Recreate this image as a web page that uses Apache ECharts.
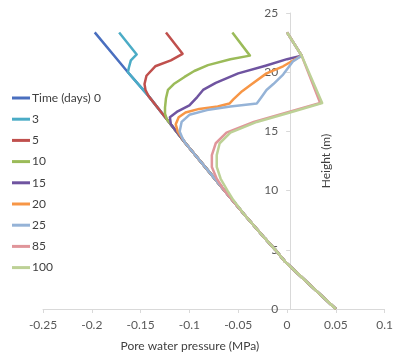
<!DOCTYPE html>
<html>
<head>
<meta charset="utf-8">
<script src="https://cdn.jsdelivr.net/npm/echarts@6/dist/echarts.min.js"></script>
<style>html,body{margin:0;padding:0;background:#fff}#c{width:396px;height:357px}</style>
</head>
<body>
<div id="c"></div>
<script>
// Series names (time in days)
const seriesNames = ['Time (days) 0', '3', '5', '10', '15', '20', '25', '85', '100'];
const seriesColors = ['#4A6FBF', '#4BACC6', '#C0504D', '#9BBB59', '#6F54A0', '#F79646', '#95B3D7', '#E0959A', '#BDD196'];

// Pore water pressure (MPa) and height (m) for each time
const p0   = [-0.197, -0.163, -0.142, -0.123, -0.104, -0.084, -0.064, -0.044, -0.023, -0.012, -0.002, 0.011, 0.024, 0.037, 0.05];
const h0   = [23.36, 20, 18, 16, 14, 12, 10, 8, 6, 5, 4, 3, 2, 1, 0];

const p3   = [-0.172, -0.154, -0.160, -0.162, -0.163, -0.142, -0.123, -0.104, -0.084, -0.064, -0.044, -0.023, -0.012, -0.002, 0.011, 0.024, 0.037, 0.05];
const h3   = [23.36, 21.5, 21.0, 20.4, 20, 18, 16, 14, 12, 10, 8, 6, 5, 4, 3, 2, 1, 0];

const p5   = [-0.124, -0.107, -0.119, -0.135, -0.144, -0.146, -0.145, -0.142, -0.123, -0.104, -0.084, -0.064, -0.044, -0.023, -0.012, -0.002, 0.011, 0.024, 0.037, 0.05];
const h5   = [23.36, 21.55, 21.0, 20.5, 19.7, 19.0, 18.5, 18.0, 16, 14, 12, 10, 8, 6, 5, 4, 3, 2, 1, 0];

const p10  = [-0.056, -0.038, -0.058, -0.081, -0.095, -0.105, -0.116, -0.122, -0.124, -0.125, -0.125, -0.123, -0.104, -0.084, -0.064, -0.044, -0.023, -0.012, -0.002, 0.011, 0.024, 0.037, 0.05];
const h10  = [23.36, 21.4, 21.1, 20.6, 20.1, 19.6, 19.0, 18.5, 17.8, 17.0, 16.5, 16, 14, 12, 10, 8, 6, 5, 4, 3, 2, 1, 0];

const p15  = [0, 0.015, 0, -0.022, -0.050, -0.073, -0.086, -0.092, -0.100, -0.112, -0.120, -0.119, -0.104, -0.084, -0.064, -0.044, -0.023, -0.012, -0.002, 0.011, 0.024, 0.037, 0.05];
const h15  = [23.36, 21.4, 21.1, 20.55, 19.9, 19.1, 18.5, 17.9, 17.2, 16.7, 16.2, 15.6, 14, 12, 10, 8, 6, 5, 4, 3, 2, 1, 0];

const p20  = [0, 0.015, -0.004, -0.021, -0.036, -0.046, -0.055, -0.059, -0.071, -0.090, -0.104, -0.111, -0.114, -0.112, -0.104, -0.084, -0.064, -0.044, -0.023, -0.012, -0.002, 0.011, 0.024, 0.037, 0.05];
const h20  = [23.36, 21.4, 20.5, 19.9, 19.0, 18.4, 17.7, 17.35, 17.1, 16.9, 16.6, 16.2, 15.6, 15.0, 14, 12, 10, 8, 6, 5, 4, 3, 2, 1, 0];

const p25  = [0, 0.015, 0.006, -0.004, -0.014, -0.021, -0.027, -0.031, -0.058, -0.082, -0.100, -0.108, -0.110, -0.107, -0.104, -0.084, -0.064, -0.044, -0.023, -0.012, -0.002, 0.011, 0.024, 0.037, 0.05];
const h25  = [23.36, 21.4, 20.9, 19.8, 19.0, 18.5, 17.8, 17.35, 17.1, 16.8, 16.4, 15.8, 15.0, 14.4, 14, 12, 10, 8, 6, 5, 4, 3, 2, 1, 0];

const p85  = [0, 0.015, 0.034, 0, -0.034, -0.062, -0.073, -0.077, -0.077, -0.072, -0.064, -0.044, -0.023, -0.012, -0.002, 0.011, 0.024, 0.037, 0.05];
const h85  = [23.36, 21.4, 17.4, 16.6, 15.8, 14.9, 14.0, 13.0, 12.0, 11.0, 10, 8, 6, 5, 4, 3, 2, 1, 0];

const p100 = [0, 0.015, 0.036, 0.003, -0.031, -0.058, -0.069, -0.072, -0.072, -0.068, -0.061, -0.055, -0.044, -0.023, -0.012, -0.002, 0.011, 0.024, 0.037, 0.05];
const h100 = [23.36, 21.4, 17.4, 16.6, 15.8, 14.9, 14.0, 13.0, 12.0, 11.0, 10.0, 9.2, 8, 6, 5, 4, 3, 2, 1, 0];

const pressures = [p0, p3, p5, p10, p15, p20, p25, p85, p100];
const heights = [h0, h3, h5, h10, h15, h20, h25, h85, h100];

// Axis ticks
const xMin = -0.25, xMax = 0.1, xStep = 0.05;
const yMin = 0, yMax = 25, yStep = 5;

const font = 'Lato, "Open Sans", sans-serif';
const series = seriesNames.map((name, i) => ({
  name: name,
  type: 'line',
  showSymbol: false,
  symbol: 'none',
  smooth: false,
  color: seriesColors[i],
  lineStyle: { width: 2.5, color: seriesColors[i], join: 'round' },
  data: pressures[i].map((p, j) => [p, heights[i][j]]),
  z: 2 + i
}));

const gridLeft = 43, gridRight = 7;
const chartW = 396;
// place the y axis where pressure = 0
const zeroOffset = (chartW - gridLeft - gridRight) * (0 - xMin) / (xMax - xMin);

const chart = echarts.init(document.getElementById('c'), null, { renderer: 'canvas' });
chart.setOption({
  animation: false,
  backgroundColor: '#fff',
  textStyle: { fontFamily: font },
  grid: { left: gridLeft, right: gridRight, top: 13, bottom: 44, containLabel: false },
  legend: {
    orient: 'vertical',
    left: 7,
    top: 86,
    icon: 'rect',
    itemWidth: 18,
    itemHeight: 3,
    itemGap: 7.2,
    textStyle: { fontFamily: font, fontSize: 12, color: '#404040', lineHeight: 14, padding: [0, 0, 0, -3] },
    data: seriesNames
  },
  xAxis: {
    type: 'value',
    min: xMin, max: xMax, interval: xStep,
    name: 'Pore water pressure (MPa)',
    nameLocation: 'middle',
    nameGap: 31,
    nameMoveOverlap: false,
    nameTextStyle: { fontFamily: font, fontSize: 12, color: '#404040', padding: [0, 48, 0, 0] },
    axisLine: { onZero: false, lineStyle: { color: '#D9D9D9', width: 1 } },
    axisTick: { show: true, length: 4, lineStyle: { color: '#D9D9D9' } },
    axisLabel: { fontFamily: font, fontSize: 12, color: '#595959', margin: 10 },
    splitLine: { show: false }
  },
  yAxis: {
    type: 'value',
    position: 'left',
    offset: -zeroOffset,
    min: yMin, max: yMax, interval: yStep,
    name: 'Height (m)',
    nameLocation: 'middle',
    nameGap: -42,
    nameMoveOverlap: false,
    nameTextStyle: { fontFamily: font, fontSize: 12, color: '#404040' },
    axisLine: { show: true, onZero: false, lineStyle: { color: '#D9D9D9', width: 1 } },
    axisTick: { show: true, length: 4, lineStyle: { color: '#D9D9D9' } },
    axisLabel: { fontFamily: font, fontSize: 12, color: '#595959', margin: 12 },
    splitLine: { show: false }
  },
  series: series
});
</script>
</body>
</html>
